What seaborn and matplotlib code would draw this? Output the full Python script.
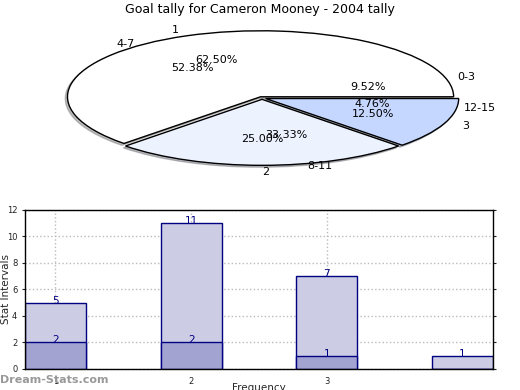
import matplotlib
matplotlib.use("Agg")
import matplotlib.pyplot as plt
import seaborn as sns
import pandas as pd

sns.set_style("white")
plt.rcParams['font.family'] = ['DejaVu Sans']
plt.rcParams['text.color'] = 'black'

# datos del pie (dos series superpuestas)
goal_labels = ['1', '2', '3']
goal_counts = [5, 2, 1]
interval_labels = ['0-3', '4-7', '8-11', '12-15']
interval_counts = [2, 11, 7, 1]

# datos de las barras
bar_positions = ['1', '2', '3', '4']
light_values = [5, 11, 7, 1]
dark_values = [2, 2, 1, 0]
xtick_labels = ['1', '2', '3']

fig = plt.figure(figsize=(5.2, 3.9), dpi=100)
fig.text(0.5, 0.975, 'Goal tally for Cameron Mooney - 2004 tally',
         ha='center', va='center', fontsize=9)

# --- Pie (elipse) ---
ax_pie = fig.add_axes([0.0212, 0.5033, 0.9654, 0.4908])
pie_colors = ['#ffffff', '#edf2ff', '#c5d7ff']
ax_pie.pie(goal_counts, labels=goal_labels, colors=pie_colors,
           autopct='%.2f%%', startangle=0, counterclock=True,
           labeldistance=1.1, pctdistance=0.6,
           shadow={'ox': -0.008, 'oy': -0.02, 'shade': 0.5},
           explode=[0.02, 0.02, 0.02],
           wedgeprops=dict(edgecolor='black', linewidth=1.0),
           textprops=dict(fontsize=8, color='black'))
w2, _, _ = ax_pie.pie(interval_counts, labels=interval_labels,
                      autopct='%.2f%%', startangle=0, counterclock=True,
                      labeldistance=1.1, pctdistance=0.6, radius=0.96,
                      wedgeprops=dict(facecolor='none', edgecolor='none'),
                      textprops=dict(fontsize=8, color='black'))
ax_pie.set_aspect('auto')
ax_pie.set_xlim(-1.3, 1.3)
ax_pie.set_ylim(-1.45, 1.45)
ax_pie.axis('off')

# --- Barras ---
ax = fig.add_axes([0.048, 0.054, 0.9, 0.4077])
df = pd.DataFrame({'pos': bar_positions, 'light': light_values, 'dark': dark_values})
sns.barplot(data=df, x='pos', y='light', color='#ccccE4', saturation=1,
            width=0.45, edgecolor='#000080', linewidth=1, ax=ax)
sns.barplot(data=df, x='pos', y='dark', color='#a3a3d1', saturation=1,
            width=0.45, edgecolor='#000080', linewidth=1, ax=ax)

for i, (lv, dv) in enumerate(zip(light_values, dark_values)):
    ax.text(i, lv + 0.15, str(lv), ha='center', va='center', fontsize=7.5, color='#000080')
    if dv > 0:
        ax.text(i, dv + 0.15, str(dv), ha='center', va='center', fontsize=7.5, color='#000080')

ax.set_xlim(-0.225, 3.225)
ax.set_ylim(0, 12)
ax.set_yticks(range(0, 13, 2))
ax.set_xticks(range(len(xtick_labels)))
ax.set_xticklabels(xtick_labels)
ax.tick_params(labelsize=6, length=2, colors='#222222')
ax.yaxis.set_ticks_position('both')
ax.grid(True, linestyle=':', color='#bbbbbb', linewidth=1)
ax.set_axisbelow(True)
for s in ax.spines.values():
    s.set_color('black')
    s.set_linewidth(1)
ax.set_xlabel('Frequency', fontsize=7.5)
ax.xaxis.set_label_coords(0.5, -0.088)
ax.set_ylabel('Stat Intervals', fontsize=7.5)
ax.yaxis.set_label_coords(-0.029, 0.5)

fig.text(0.0, 0.025, 'Dream-Stats.com', fontsize=8, color='#999999',
         fontweight='bold', ha='left', va='center')

fig.savefig('out.png', dpi=100)
